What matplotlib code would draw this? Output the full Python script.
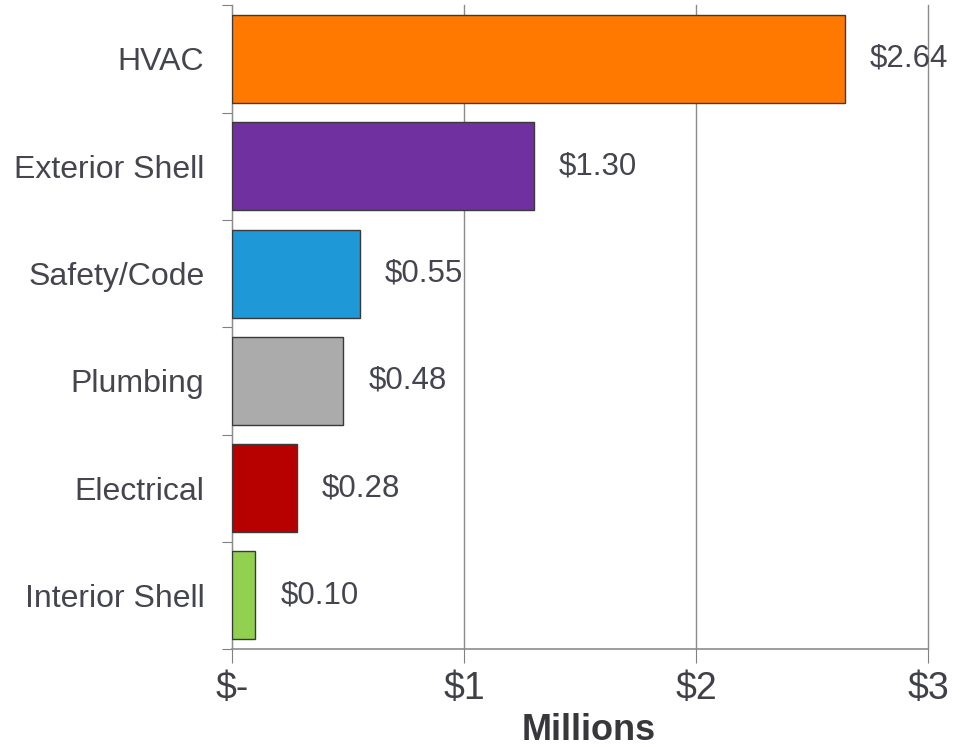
import matplotlib.pyplot as plt

categories = ['HVAC', 'Exterior Shell', 'Safety/Code', 'Plumbing', 'Electrical', 'Interior Shell']
costs = [2.64, 1.30, 0.55, 0.48, 0.28, 0.10]  # millions of dollars
colors = ['#FF7800', '#7030A0', '#1E98D6', '#ABABAB', '#B70000', '#92D050']
xticks = [0, 1, 2, 3]
xticklabels = ['$-', '$1', '$2', '$3']

plt.rcParams['font.family'] = ['Liberation Sans', 'DejaVu Sans']

fig = plt.figure(figsize=(9.67, 7.47), dpi=100)
ax = fig.add_axes([0.240, 0.131, 0.7197, 0.862])

pos = list(range(len(categories)))
ax.barh(pos, costs, height=0.82, color=colors, edgecolor='#3a3a3a', linewidth=1.0, zorder=3)
for y, v in zip(pos, costs):
    ax.text(v + 0.108, y, '$%.2f' % v, va='center', ha='left', fontsize=22.5, color='#454550', zorder=4)

ax.set_ylim(len(categories) - 0.5, -0.5)
ax.set_xlim(0, 3)
# category boundaries get the tick marks, names sit between them
ax.set_yticks([p - 0.5 for p in pos] + [len(categories) - 0.5])
ax.set_yticklabels([])
ax.set_yticks(pos, minor=True)
ax.set_yticklabels(categories, minor=True, fontsize=23, color='#454550')
ax.tick_params(axis='y', which='minor', length=0, pad=20)
ax.tick_params(axis='y', which='major', length=7, color='#808080')

ax.set_xticks(xticks)
ax.set_xticklabels(xticklabels, fontsize=27, color='#404048')
ax.tick_params(axis='x', length=10, color='#808080', pad=6)
ax.set_xlabel('Millions', fontsize=26, fontweight='bold', color='#38383c', labelpad=4, x=0.513)

ax.grid(axis='x', color='#8c8c8c', linewidth=1.0, zorder=0)
for g in ax.xaxis.get_gridlines():
    g.set_clip_on(False)
for s in ['top', 'right']:
    ax.spines[s].set_visible(False)
ax.spines['left'].set_color('#8c8c8c')
ax.spines['bottom'].set_color('#8c8c8c')
ax.spines['bottom'].set_linewidth(1.2)

fig.savefig('out.png', dpi=100, facecolor='white')
